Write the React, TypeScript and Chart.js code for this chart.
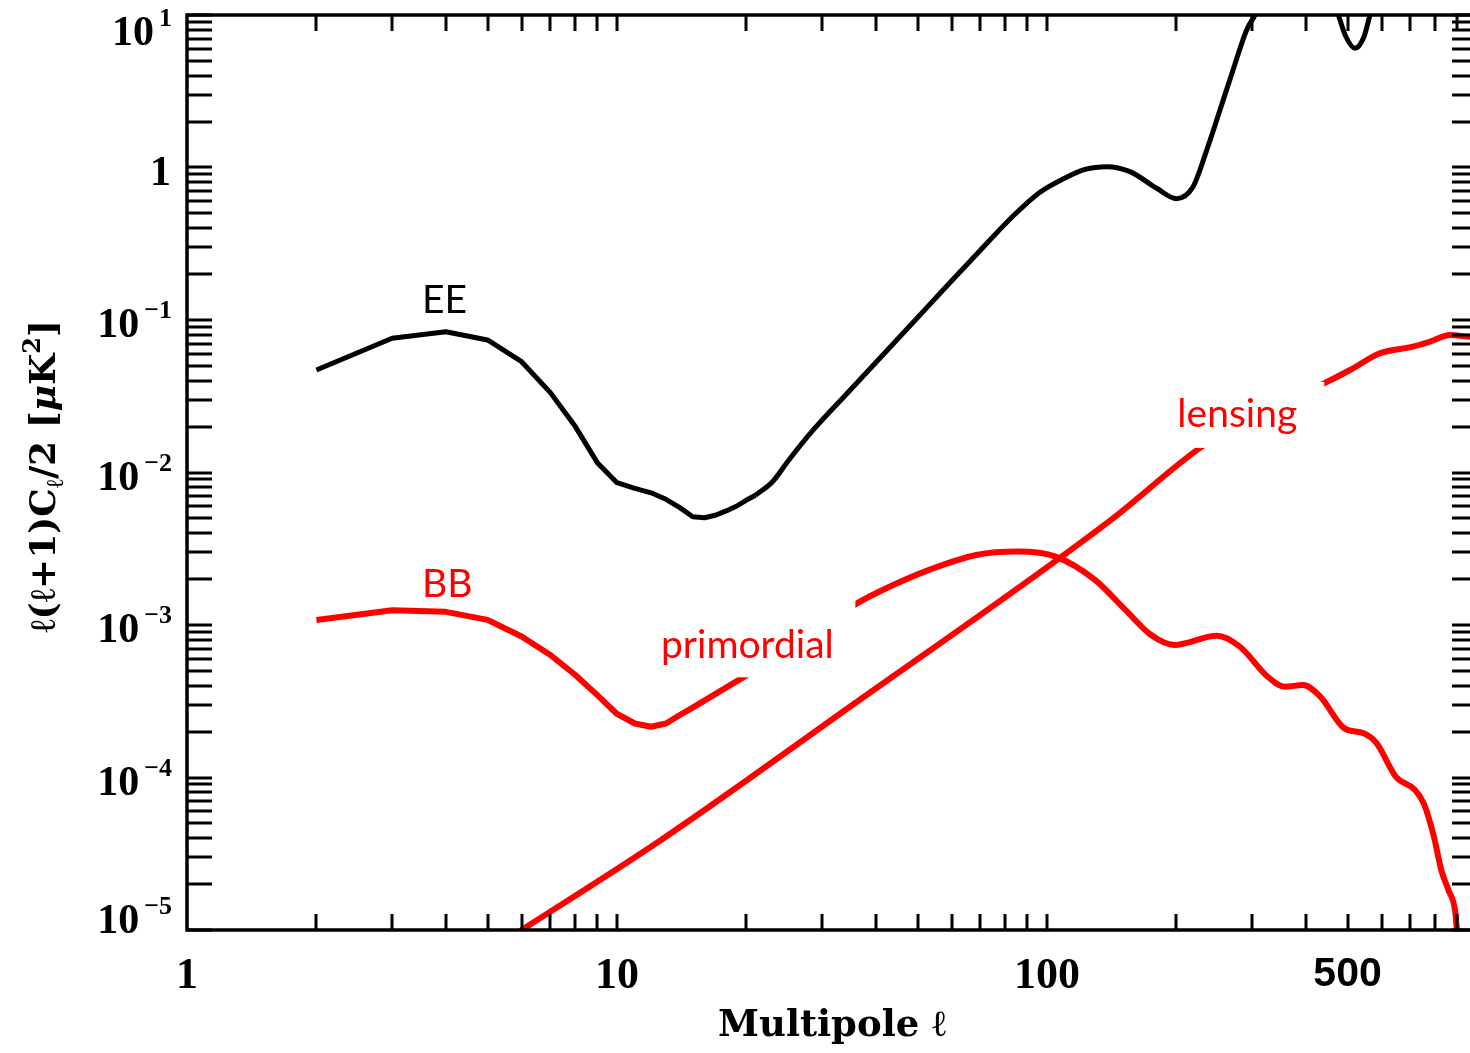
import React, { useEffect, useRef } from 'react';
import { Chart, registerables } from 'chart.js';

Chart.register(...registerables);

// ---------- data (multipole l, l(l+1)C_l/2 in uK^2) ----------
const eeLowL = [2, 3, 4, 5, 6, 7, 8, 9, 10, 11, 12, 13, 14, 15, 16, 17, 18, 19, 20, 21];
const eeLowV = [0.047, 0.0759, 0.0838, 0.074, 0.0533, 0.0334, 0.02, 0.0116, 0.00857, 0.00787, 0.00736, 0.00667, 0.00588, 0.00513, 0.00505, 0.00526, 0.00562, 0.00603, 0.0066, 0.0071];
const eeHighL = [21, 23, 25, 28.6, 34.1, 40.9, 48.8, 58.4, 69.9, 83.4, 96.3, 108.9, 122.6, 137.7, 156, 180, 200, 218.6, 235.2, 252.5, 270.8, 291.3, 304.6, 330, 370, 410, 450, 475.8, 495.7, 520.3, 546, 563.9, 600, 680, 780, 900, 1000];
const eeHighV = [0.0071, 0.0087, 0.0119, 0.019, 0.0325, 0.0564, 0.0963, 0.1663, 0.2856, 0.4808, 0.6887, 0.8406, 0.9716, 1.012, 0.939, 0.7306, 0.625, 0.748, 1.3, 2.38, 4.36, 7.98, 10, 16, 22, 22, 15, 10, 7.2, 6.05, 7.2, 10, 18, 35, 25, 30, 40];

const bbLowL = [2, 3, 4, 5, 6, 7, 8, 9, 10, 11, 12, 13, 14, 15, 20];
const bbLowV = [1.08e-3, 1.25e-3, 1.22e-3, 1.08e-3, 8.4e-4, 6.36e-4, 4.7e-4, 3.47e-4, 2.61e-4, 2.26e-4, 2.15e-4, 2.26e-4, 2.57e-4, 2.87e-4, 4.67e-4];
const bbHighL = [20, 25, 30, 35.9, 43, 53.2, 68.5, 85.6, 104.7, 129.5, 152.4, 174.7, 197.7, 248.4, 281, 326, 357, 394, 432, 492, 545, 584, 648, 718, 752, 794, 826, 858, 889, 898, 920];
const bbHighV = [4.67e-4, 7.0e-4, 9.7e-4, 1.37e-3, 1.78e-3, 2.3e-3, 2.88e-3, 3.03e-3, 2.81e-3, 1.97e-3, 1.25e-3, 8.6e-4, 7.4e-4, 8.5e-4, 7.2e-4, 4.58e-4, 3.94e-4, 4.04e-4, 3.39e-4, 2.1e-4, 1.95e-4, 1.68e-4, 1.01e-4, 8.27e-5, 6.76e-5, 4.09e-5, 2.47e-5, 1.83e-5, 1.35e-5, 1e-5, 5e-6];

const lensL = [5, 6.0, 12.66, 34.8, 140.9, 226.9, 300, 440.8, 506.7, 594.7, 709.8, 777.5, 865.6, 948, 1000];
const lensV = [7.2e-6, 1e-5, 3.89e-5, 2.91e-4, 4.89e-3, 0.0145, 0.0233, 0.0384, 0.047, 0.0605, 0.0669, 0.0721, 0.0798, 0.0778, 0.077];

const xTickLabels = [1, 10, 100, 500];
const yTickPowers = [1, 0, -1, -2, -3, -4, -5];

const labelTexts = ['EE', 'BB', 'primordial', 'lensing'];
const labelL = [3.97, 4.03, 20.1, 277];
const labelV = [0.1106, 1.53e-3, 6.05e-4, 0.0199];

// ---------- helpers ----------
const pts = (ls: number[], vs: number[]) => ls.map((l, i) => ({ x: l, y: vs[i] }));

const decadeTicks = (e0: number, e1: number) => {
  const out: number[] = [];
  for (let e = e0; e < e1; e++) for (let m = 1; m <= 9; m++) out.push(m * Math.pow(10, e));
  out.push(Math.pow(10, e1));
  return out;
};

const RED = '#ff0000';
const BLACK = '#000000';
const labelColors = [BLACK, RED, RED, RED];
// white boxes behind some labels (relative to the text anchor, px)
const labelBoxes: Record<number, { l: number; r: number; t: number; b: number }> = {
  2: { l: -99, r: 108, t: -62, b: 19 },
  3: { l: -70, r: 87, t: -45, b: 21 },
};

const serifBold = (size: number) => `bold ${size}px "Liberation Serif", "DejaVu Serif", serif`;

const framePlugin = {
  id: 'framePlugin',
  afterDatasetsDraw(chart: any) {
    const { ctx, chartArea, scales } = chart;
    const { left, right, top, bottom } = chartArea;
    const xs = scales.x;
    const ys = scales.y;
    ctx.save();

    // annotations
    ctx.font = '39px Lato, "Open Sans", sans-serif';
    ctx.textAlign = 'center';
    ctx.textBaseline = 'alphabetic';
    labelTexts.forEach((t, i) => {
      const px = xs.getPixelForValue(labelL[i]);
      const py = ys.getPixelForValue(labelV[i]);
      const b = labelBoxes[i];
      if (b) {
        ctx.fillStyle = '#ffffff';
        ctx.fillRect(px + b.l, py + b.t, b.r - b.l, b.b - b.t);
      }
      ctx.fillStyle = labelColors[i];
      ctx.fillText(t, px, py);
    });

    // inside ticks
    ctx.strokeStyle = BLACK;
    ctx.lineWidth = 3;
    ctx.beginPath();
    for (const t of xs.ticks) {
      const px = Math.round(xs.getPixelForValue(t.value));
      if (px <= left + 2 || px >= right - 2) continue;
      ctx.moveTo(px, bottom);
      ctx.lineTo(px, bottom - 16);
      ctx.moveTo(px, top);
      ctx.lineTo(px, top + 16);
    }
    for (const t of ys.ticks) {
      const py = Math.round(ys.getPixelForValue(t.value));
      ctx.moveTo(left, py);
      ctx.lineTo(left + 25, py);
      ctx.moveTo(right, py);
      ctx.lineTo(right - 25, py);
    }
    ctx.stroke();

    // frame
    ctx.lineWidth = 3.5;
    ctx.strokeRect(left, top, right - left, bottom - top);

    // y tick labels with superscripts
    ctx.fillStyle = BLACK;
    ctx.textBaseline = 'alphabetic';
    const rx = 172;
    for (const p of yTickPowers) {
      const py = ys.getPixelForValue(Math.pow(10, p));
      let base = py + 17;
      if (p === 1) base = py + 30;
      if (p === -5) base = py + 3;
      if (p === 0) {
        ctx.font = serifBold(42);
        ctx.textAlign = 'right';
        ctx.fillText('1', rx - 1, base);
        continue;
      }
      const sup = p > 0 ? String(p) : '\u2212' + String(-p);
      ctx.font = serifBold(26);
      const sw = ctx.measureText(sup).width;
      ctx.textAlign = 'left';
      ctx.fillText(sup, rx - sw, base - 19);
      ctx.font = serifBold(42);
      ctx.textAlign = 'right';
      ctx.fillText('10', rx - sw - 5, base);
    }

    // y axis title (rotated)
    const big = 'bold 36px "DejaVu Serif", serif';
    const small = 'bold 24px "DejaVu Serif", serif';
    const parts = [
      { t: '\u2113(\u2113+1)C', f: big, dy: 0 },
      { t: '\u2113', f: small, dy: 8 },
      { t: '/2 [', f: big, dy: 0 },
      { t: '\u03bc', f: 'bold italic 36px "DejaVu Serif", serif', dy: 0 },
      { t: 'K', f: big, dy: 0 },
      { t: '2', f: small, dy: -15 },
      { t: ']', f: big, dy: 0 },
    ];
    let total = 0;
    const widths = parts.map((pt) => {
      ctx.font = pt.f;
      const w = ctx.measureText(pt.t).width;
      total += w;
      return w;
    });
    ctx.translate(55, (top + bottom) / 2 + 4);
    ctx.rotate(-Math.PI / 2);
    ctx.textAlign = 'left';
    let cx = -total / 2;
    parts.forEach((pt, i) => {
      ctx.font = pt.f;
      ctx.fillText(pt.t, cx, pt.dy);
      cx += widths[i];
    });

    ctx.restore();
  },
};

export default function App() {
  const ref = useRef<HTMLCanvasElement>(null);

  useEffect(() => {
    const canvas = ref.current;
    if (!canvas) return;
    const common = {
      pointRadius: 0,
      pointHoverRadius: 0,
      fill: false,
      clip: 0,
      borderJoinStyle: 'round' as const,
    };
    const chart = new Chart(canvas, {
      type: 'line',
      data: {
        datasets: [
          { ...common, label: 'EE', data: pts(eeLowL, eeLowV), borderColor: BLACK, borderWidth: 5, tension: 0 },
          { ...common, label: 'EE ', data: pts(eeHighL, eeHighV), borderColor: BLACK, borderWidth: 5, cubicInterpolationMode: 'monotone' },
          { ...common, label: 'BB primordial', data: pts(bbLowL, bbLowV), borderColor: RED, borderWidth: 6, tension: 0 },
          { ...common, label: 'BB primordial ', data: pts(bbHighL, bbHighV), borderColor: RED, borderWidth: 6, cubicInterpolationMode: 'monotone' },
          { ...common, label: 'BB lensing', data: pts(lensL, lensV), borderColor: RED, borderWidth: 6, cubicInterpolationMode: 'monotone' },
        ],
      },
      options: {
        responsive: false,
        animation: false,
        devicePixelRatio: 1,
        events: [],
        layout: { padding: { top: 15, right: 23, bottom: 0, left: 0 } },
        plugins: { legend: { display: false }, tooltip: { enabled: false }, title: { display: false } },
        scales: {
          x: {
            type: 'logarithmic',
            min: 1,
            max: 1000,
            position: 'bottom',
            grid: { display: false, drawTicks: false },
            border: { display: false },
            afterBuildTicks: (scale: any) => {
              scale.ticks = decadeTicks(0, 3).map((v) => ({ value: v }));
            },
            afterFit: (scale: any) => {
              scale.height = 123;
            },
            ticks: {
              autoSkip: false,
              maxRotation: 0,
              minRotation: 0,
              padding: 20,
              color: BLACK,
              font: (c: any) =>
                c.tick && Math.abs(c.tick.value - 500) < 1e-6
                  ? { family: '"Liberation Sans", Arial, sans-serif', weight: 'bold', size: 41 }
                  : { family: '"Liberation Serif", "DejaVu Serif", serif', weight: 'bold', size: 44 },
              callback: (value: any) => {
                const v = Number(value);
                return xTickLabels.some((t) => Math.abs(t - v) < 1e-6 * t) ? String(Math.round(v)) : '';
              },
            },
            title: {
              display: true,
              text: 'Multipole \u2113',
              color: BLACK,
              font: { family: '"DejaVu Serif", serif', weight: 'bold', size: 37 },
              padding: { top: 0, bottom: 4 },
            },
          },
          y: {
            type: 'logarithmic',
            min: 1e-5,
            max: 10,
            position: 'left',
            grid: { display: false, drawTicks: false },
            border: { display: false },
            afterBuildTicks: (scale: any) => {
              scale.ticks = decadeTicks(-5, 1).map((v) => ({ value: v }));
            },
            afterFit: (scale: any) => {
              scale.width = 187;
            },
            ticks: { display: false },
            title: { display: false },
          },
        },
      },
      plugins: [framePlugin],
    } as any);
    return () => chart.destroy();
  }, []);

  return (
    <div
      style={{
        position: 'fixed',
        left: 0,
        top: 0,
        width: 1470,
        height: 1053,
        overflow: 'hidden',
        background: '#ffffff',
      }}
    >
      <canvas ref={ref} width={1500} height={1053} style={{ display: 'block' }} />
    </div>
  );
}
